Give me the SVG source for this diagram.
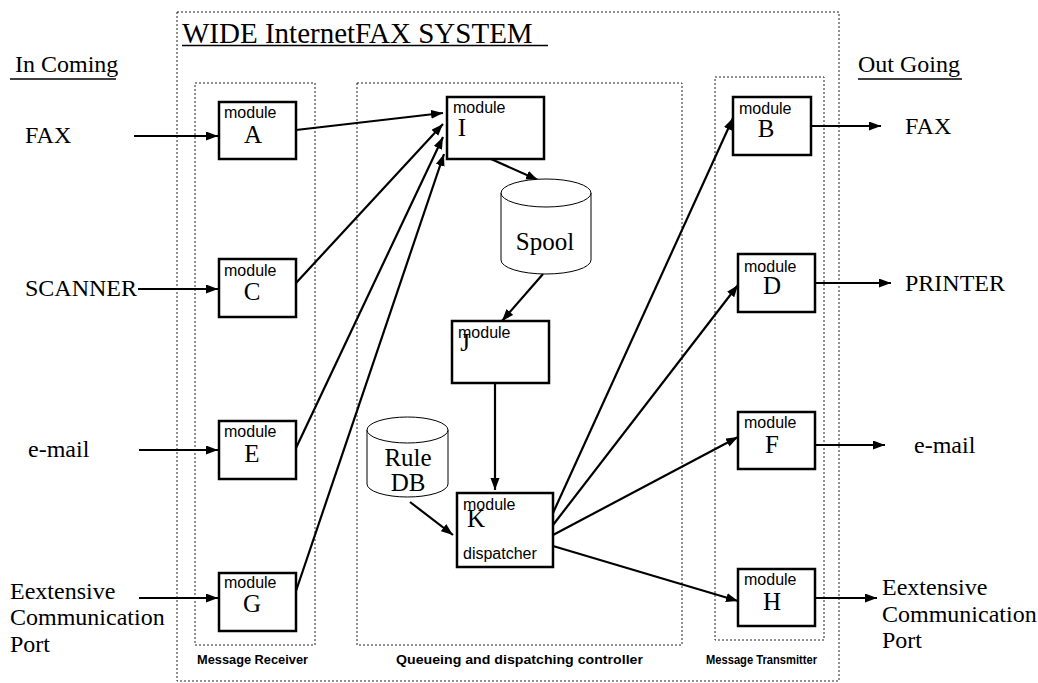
<svg xmlns="http://www.w3.org/2000/svg" width="1038" height="683" viewBox="0 0 1038 683">
<defs>
<marker id="ah" markerUnits="userSpaceOnUse" markerWidth="13" markerHeight="10" refX="12" refY="4.5" orient="auto">
<path d="M0,0 L12,4.5 L0,9 z" fill="#000"/>
</marker>
</defs>
<style>
.dot{fill:none;stroke:#222;stroke-width:1;stroke-dasharray:2,2}
.box{fill:#fff;stroke:#000;stroke-width:2.5}
.cyl{fill:#fff;stroke:#000;stroke-width:1}
.ar{fill:none;stroke:#000;stroke-width:2.2;marker-end:url(#ah)}
.ser{font-family:"Liberation Serif",serif;font-size:24px;fill:#000}
.mod{font-family:"Liberation Sans",sans-serif;font-size:16px;fill:#000}
.let{font-family:"Liberation Serif",serif;font-size:25px;fill:#000;text-anchor:middle}
.cap{font-family:"Liberation Sans",sans-serif;font-size:13px;font-weight:bold;fill:#000}
.ul{stroke:#000;stroke-width:1.3}
</style>
<rect width="1038" height="683" fill="#fff"/>
<g id="frames">
<rect class="dot" x="177" y="12" width="662" height="669"/>
<rect class="dot" x="195" y="83" width="120" height="562"/>
<rect class="dot" x="357" y="83" width="325" height="562"/>
<rect class="dot" x="715" y="77" width="109" height="563"/>
</g>
<g id="labels">
<text class="ser" x="182" y="43" style="font-size:29px">WIDE InternetFAX SYSTEM</text>
<line class="ul" x1="182" y1="45.5" x2="548" y2="45.5"/>
<text class="ser" x="15" y="72">In Coming</text>
<line class="ul" x1="10" y1="79" x2="116" y2="79"/>
<text class="ser" x="858" y="72">Out Going</text>
<line class="ul" x1="858" y1="79" x2="962" y2="79"/>
<text class="ser" x="25" y="143">FAX</text>
<text class="ser" x="25" y="296">SCANNER</text>
<text class="ser" x="28" y="457">e-mail</text>
<text class="ser" x="10" y="599">Eextensive</text>
<text class="ser" x="10" y="625">Communication</text>
<text class="ser" x="10" y="652">Port</text>
<text class="ser" x="905" y="134">FAX</text>
<text class="ser" x="905" y="291">PRINTER</text>
<text class="ser" x="914" y="453">e-mail</text>
<text class="ser" x="882" y="595">Eextensive</text>
<text class="ser" x="882" y="622">Communication</text>
<text class="ser" x="882" y="648">Port</text>
<text class="cap" x="197" y="664" textLength="111" lengthAdjust="spacingAndGlyphs">Message Receiver</text>
<text class="cap" x="396" y="664" textLength="247" lengthAdjust="spacingAndGlyphs">Queueing and dispatching controller</text>
<text class="cap" x="706" y="664" textLength="111" lengthAdjust="spacingAndGlyphs">Message Transmitter</text>
</g>
<g id="connectors">
<line class="ar" x1="134" y1="136" x2="218" y2="136"/>
<line class="ar" x1="138" y1="289" x2="218" y2="289"/>
<line class="ar" x1="139" y1="450" x2="218" y2="450"/>
<line class="ar" x1="139" y1="598" x2="218" y2="598"/>
<line class="ar" x1="296" y1="130" x2="443" y2="113"/>
<line class="ar" x1="296" y1="283" x2="443" y2="124"/>
<line class="ar" x1="296" y1="448" x2="443" y2="137"/>
<line class="ar" x1="296" y1="591" x2="444" y2="154"/>
<line class="ar" x1="491" y1="159" x2="538" y2="180"/>
<line class="ar" x1="543" y1="274" x2="502" y2="321"/>
<line class="ar" x1="495" y1="384" x2="495" y2="490"/>
<line class="ar" x1="410" y1="502" x2="453" y2="535"/>
<line class="ar" x1="553" y1="513" x2="733" y2="118"/>
<line class="ar" x1="553" y1="525" x2="738" y2="285"/>
<line class="ar" x1="553" y1="535" x2="738" y2="437"/>
<line class="ar" x1="553" y1="546" x2="738" y2="601"/>
<line class="ar" x1="811" y1="126" x2="881" y2="126"/>
<line class="ar" x1="815" y1="283" x2="891" y2="283"/>
<line class="ar" x1="815" y1="445" x2="885" y2="445"/>
<line class="ar" x1="815" y1="598" x2="877" y2="598"/>
</g>
<g id="moduleA"><rect class="box" x="219" y="102" width="77" height="57"/><text class="mod" x="224" y="118">module</text><text class="let" x="253" y="143">A</text></g>
<g id="moduleC"><rect class="box" x="219" y="259" width="77" height="58"/><text class="mod" x="224" y="276">module</text><text class="let" x="252" y="300">C</text></g>
<g id="moduleE"><rect class="box" x="219" y="421" width="77" height="58"/><text class="mod" x="224" y="437">module</text><text class="let" x="252" y="462">E</text></g>
<g id="moduleG"><rect class="box" x="219" y="573" width="77" height="58"/><text class="mod" x="224" y="588">module</text><text class="let" x="252" y="612">G</text></g>
<g id="moduleI"><rect class="box" x="447" y="97" width="97" height="62"/><text class="mod" x="453" y="113">module</text><text class="let" x="462" y="136">I</text></g>
<g id="spool"><path class="cyl" d="M501,193 L501,260 A45,14 0 0 0 591,260 L591,193"/><ellipse class="cyl" cx="546" cy="193" rx="45" ry="14"/><text class="let" x="545" y="250">Spool</text></g>
<g id="moduleJ"><rect class="box" x="452" y="321" width="97" height="62"/><text class="let" x="465" y="351">J</text><text class="mod" x="458" y="338">module</text></g>
<g id="ruleDB"><path class="cyl" d="M367,430 L367,484 A40.5,13 0 0 0 448,484 L448,430"/><ellipse class="cyl" cx="407.5" cy="430" rx="40.5" ry="13"/><text class="let" x="408" y="466">Rule</text><text class="let" x="408" y="491">DB</text></g>
<g id="moduleK"><rect class="box" x="457" y="493" width="96" height="74"/><text class="let" x="476" y="527">K</text><text class="mod" x="463" y="510">module</text><text class="mod" x="463" y="559">dispatcher</text></g>
<g id="moduleB"><rect class="box" x="733" y="97" width="78" height="58"/><text class="mod" x="739" y="114">module</text><text class="let" x="766" y="137">B</text></g>
<g id="moduleD"><rect class="box" x="738" y="254" width="77" height="58"/><text class="mod" x="744" y="272">module</text><text class="let" x="772" y="294">D</text></g>
<g id="moduleF"><rect class="box" x="738" y="412" width="77" height="57"/><text class="mod" x="744" y="428">module</text><text class="let" x="772" y="453">F</text></g>
<g id="moduleH"><rect class="box" x="738" y="569" width="77" height="57"/><text class="mod" x="744" y="585">module</text><text class="let" x="772" y="610">H</text></g>
</svg>
